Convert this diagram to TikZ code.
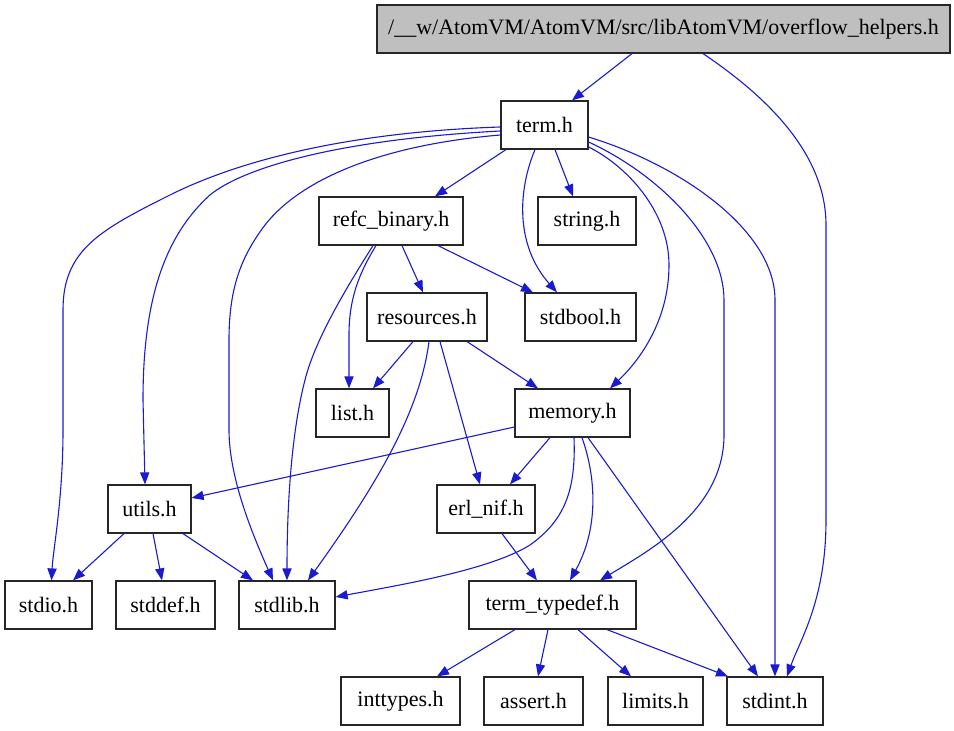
\documentclass[tikz,border=0pt]{standalone}
\usepackage{fontspec}
\setmainfont{Liberation Serif}
\usetikzlibrary{arrows.meta}
\definecolor{edgeblue}{RGB}{26,26,208}
\definecolor{rootgray}{RGB}{191,191,191}
\begin{document}
\begin{tikzpicture}[x=0.5pt,y=-0.5pt,
  box/.style={draw=black!85, line width=0.6pt, fill=white, minimum height=24pt, inner sep=0pt, font=\fontsize{11}{13}\selectfont},
  e/.style={draw=edgeblue, line width=0.55pt, -{Triangle[length=6pt,width=4.6pt]}}]
\useasboundingbox (0,0) rectangle (954,731);
\node[box, fill=rootgray, minimum width=286.5pt] (root) at (663.5,29) {/\_\_w/AtomVM/AtomVM/src/libAtomVM/overflow\_helpers.h};
\node[box, minimum width=43.5pt] (term) at (544.5,125) {term.h};
\node[box, minimum width=72pt] (refc) at (391,221) {refc\_binary.h};
\node[box, minimum width=49pt] (string) at (587,221) {string.h};
\node[box, minimum width=60pt] (res) at (427,317) {resources.h};
\node[box, minimum width=55.5pt] (stdbool) at (580.5,317) {stdbool.h};
\node[box, minimum width=36.5pt] (list) at (352.5,413) {list.h};
\node[box, minimum width=57.5pt] (memory) at (572.5,413) {memory.h};
\node[box, minimum width=41.5pt] (utils) at (149.5,509) {utils.h};
\node[box, minimum width=49pt] (erlnif) at (486,509) {erl\_nif.h};
\node[box, minimum width=43.5pt] (stdio) at (48.5,605) {stdio.h};
\node[box, minimum width=49.5pt] (stddef) at (165.5,605) {stddef.h};
\node[box, minimum width=48pt] (stdlib) at (287,605) {stdlib.h};
\node[box, minimum width=83.5pt] (termtd) at (552.5,605) {term\_typedef.h};
\node[box, minimum width=59.5pt] (inttypes) at (400.5,701) {inttypes.h};
\node[box, minimum width=49.5pt] (assert) at (533.5,701) {assert.h};
\node[box, minimum width=47.5pt] (limits) at (655.5,701) {limits.h};
\node[box, minimum width=48pt] (stdint) at (775,701) {stdint.h};

\draw[e] ([shift={(-31.5,0)}]root.south) -- ([shift={(27.5,0)}]term.north);
\draw[e] ([shift={(39.5,0)}]root.south) .. controls (760,92) and (826,150) .. (826,225) -- (826,520) .. controls (826,600) and (800,640) .. ([shift={(12,0)}]stdint.north);
\draw[e] ([shift={(-38.5,0)}]term.south) -- ([shift={(44,0)}]refc.north);
\draw[e] ([shift={(10.5,0)}]term.south) -- ([shift={(-14,0)}]string.north);
\draw[e] ([shift={(-9.5,0)}]term.south) .. controls (518,190) and (515,245) .. ([shift={(-23.5,0)}]stdbool.north);
\draw[e] ([shift={(0,22)}]term.east) .. controls (625,165) and (669,210) .. (669,265) .. controls (669,320) and (640,360) .. ([shift={(37.5,0)}]memory.north);
\draw[e] ([shift={(0,17)}]term.east) .. controls (660,175) and (724,240) .. (724,300) -- (724,435) .. controls (724,510) and (650,550) .. ([shift={(47.5,0)}]termtd.north);
\draw[e] ([shift={(0,12)}]term.east) .. controls (680,165) and (775,230) .. (775,300) -- (stdint.north);
\draw[e] ([shift={(0,2)}]term.west) .. controls (350,132) and (240,160) .. (170,195) .. controls (100,230) and (63,250) .. (63,310) -- (63,430) .. controls (63,500) and (53,550) .. ([shift={(3,0)}]stdio.north);
\draw[e] ([shift={(0,6)}]term.west) .. controls (330,140) and (240,170) .. (210,195) .. controls (160,240) and (143,310) .. (143,400) -- ([shift={(-4.5,0)}]utils.north);
\draw[e] ([shift={(0,10)}]term.west) .. controls (380,145) and (300,180) .. (265,225) .. controls (240,258) and (229,290) .. (229,340) -- (229,430) .. controls (229,480) and (255,540) .. ([shift={(-14,0)}]stdlib.north);
\draw[e] ([shift={(11,0)}]refc.south) -- ([shift={(-4,0)}]res.north);
\draw[e] ([shift={(47,0)}]refc.south) -- ([shift={(-47.5,0)}]stdbool.north);
\draw[e] ([shift={(-15,0)}]refc.south) .. controls (358,275) and (349,300) .. (349,335) -- ([shift={(-3.5,0)}]list.north);
\draw[e] ([shift={(-18,0)}]refc.south) .. controls (345,290) and (315,340) .. (305,380) .. controls (292,430) and (287,500) .. (stdlib.north);
\draw[e] ([shift={(-14,0)}]res.south) -- ([shift={(20.5,0)}]list.north);
\draw[e] ([shift={(40,0)}]res.south) -- ([shift={(-34.5,0)}]memory.north);
\draw[e] ([shift={(13,0)}]res.south) -- ([shift={(-6,0)}]erlnif.north);
\draw[e] ([shift={(2,0)}]res.south) .. controls (420,410) and (380,480) .. ([shift={(21,0)}]stdlib.north);
\draw[e] ([shift={(0,14)}]memory.west) -- ([shift={(0,-11)}]utils.east);
\draw[e] ([shift={(-22.5,0)}]memory.south) -- ([shift={(24,0)}]erlnif.north);
\draw[e] ([shift={(1.5,0)}]memory.south) .. controls (576,490) and (565,520) .. (530,545) .. controls (490,570) and (400,585) .. ([shift={(0,-8)}]stdlib.east);
\draw[e] ([shift={(9.5,0)}]memory.south) .. controls (597,480) and (598,530) .. ([shift={(17.5,0)}]termtd.north);
\draw[e] ([shift={(15.5,0)}]memory.south) -- ([shift={(-17,0)}]stdint.north);
\draw[e] ([shift={(16,0)}]erlnif.south) -- ([shift={(-15.5,0)}]termtd.north);
\draw[e] ([shift={(-25.5,0)}]utils.south) -- ([shift={(24.5,0)}]stdio.north);
\draw[e] ([shift={(3.5,0)}]utils.south) -- ([shift={(-3.5,0)}]stddef.north);
\draw[e] ([shift={(33.5,0)}]utils.south) -- ([shift={(-34,0)}]stdlib.north);
\draw[e] ([shift={(-37.5,0)}]termtd.south) -- ([shift={(36.5,0)}]inttypes.north);
\draw[e] ([shift={(-4.5,0)}]termtd.south) -- ([shift={(4.5,0)}]assert.north);
\draw[e] ([shift={(25.5,0)}]termtd.south) -- ([shift={(-24.5,0)}]limits.north);
\draw[e] ([shift={(54.5,0)}]termtd.south) -- ([shift={(-47,0)}]stdint.north);
\end{tikzpicture}
\end{document}
